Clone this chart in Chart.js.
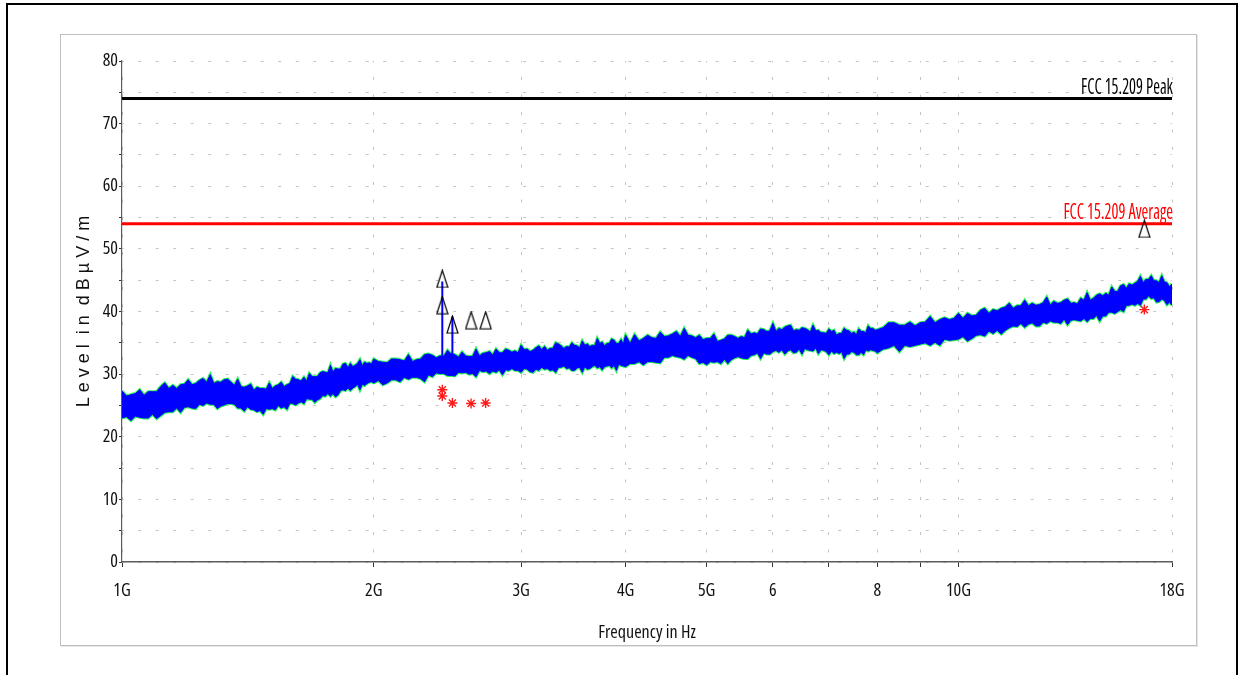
<!DOCTYPE html>
<html>
<head>
<meta charset="utf-8">
<title>Radiated emission 1-18 GHz</title>
<script src="https://cdn.jsdelivr.net/npm/chart.js@4.4.1/dist/chart.umd.min.js"></script>
<style>
  html, body { margin: 0; padding: 0; background: #fff; }
  #page { position: relative; width: 1243px; height: 675px; overflow: hidden; }
  #frame { position: absolute; left: 6px; top: 3px; width: 1232px; height: 700px;
           border: 2px solid #000; box-sizing: border-box; }
  #panel { position: absolute; left: 60px; top: 34px; width: 1137px; height: 612px;
           border: 1px solid #bfbfbf; box-sizing: border-box; box-shadow: 1px 1px 0 #e6e6e6; }
  #chart { position: absolute; left: 0; top: 0; }
</style>
</head>
<body>
<div id="page">
  <div id="frame"></div>
  <div id="panel"></div>
  <canvas id="chart" width="1243" height="675"></canvas>
</div>
<script>
// sweep frequencies (GHz)
const FREQ = [1,1.0125,1.025,1.0375,1.05,1.0625,1.075,1.0875,1.1,1.1125,1.125,1.1375,1.15,1.1625,1.175,1.1875,1.2,1.2125,1.225,1.2375,1.25,1.2625,1.275,1.2875,1.3,1.3125,1.325,1.3375,1.35,1.3625,1.375,1.3875,1.4,1.4125,1.425,1.4375,1.45,1.4625,1.475,1.4875,1.5,1.5125,1.525,1.5375,1.55,1.5625,1.575,1.5875,1.6,1.6125,1.625,1.6375,1.65,1.6625,1.675,1.6875,1.7,1.7125,1.725,1.7375,1.75,1.7625,1.775,1.7875,1.8,1.8125,1.825,1.8375,1.85,1.8625,1.875,1.8875,1.9,1.9125,1.925,1.9375,1.95,1.9625,1.975,1.9875,2,
  2.025,2.05,2.075,2.1,2.125,2.15,2.175,2.2,2.225,2.25,2.275,2.3,2.325,2.35,2.375,2.4,2.425,2.45,2.475,2.5,2.525,2.55,2.575,2.6,2.625,2.65,2.675,2.7,2.725,2.75,2.775,2.8,2.825,2.85,2.875,2.9,2.925,2.95,2.975,3,3.025,3.05,3.075,3.1,3.125,3.15,3.175,3.2,3.225,3.25,3.275,3.3,3.325,3.35,3.375,3.4,3.425,3.45,3.475,3.5,3.525,3.55,3.575,3.6,3.625,3.65,3.675,3.7,3.725,3.75,3.775,3.8,3.825,3.85,3.875,3.9,3.925,3.95,3.975,4,
  4.05,4.1,4.15,4.2,4.25,4.3,4.35,4.4,4.45,4.5,4.55,4.6,4.65,4.7,4.75,4.8,4.85,4.9,4.95,5,5.05,5.1,5.15,5.2,5.25,5.3,5.35,5.4,5.45,5.5,5.55,5.6,5.65,5.7,5.75,5.8,5.85,5.9,5.95,6,6.05,6.1,6.15,6.2,6.25,6.3,6.35,6.4,6.45,6.5,6.55,6.6,6.65,6.7,6.75,6.8,6.85,6.9,6.95,7,7.05,7.1,7.15,7.2,7.25,7.3,7.35,7.4,7.45,7.5,7.55,7.6,7.65,7.7,7.75,7.8,7.85,7.9,7.95,8,
  8.125,8.25,8.375,8.5,8.625,8.75,8.875,9,9.125,9.25,9.375,9.5,9.625,9.75,9.875,10,10.125,10.25,10.375,10.5,10.625,10.75,10.875,11,11.125,11.25,11.375,11.5,11.625,11.75,11.875,12,12.125,12.25,12.375,12.5,12.625,12.75,12.875,13,13.125,13.25,13.375,13.5,13.625,13.75,13.875,14,14.125,14.25,14.375,14.5,14.625,14.75,14.875,15,15.125,15.25,15.375,15.5,15.625,15.75,15.875,16,16.125,16.25,16.375,16.5,16.625,16.75,16.875,17,17.125,17.25,17.375,17.5,17.625,17.75,17.875,18];

// noise band of the scan: upper and lower edge (dBuV/m)
const SCAN_HI = [27.3,26.5,26.7,26.9,27.5,26.6,27.2,27.2,27.2,28.0,28.6,27.7,28.2,27.7,28.3,28.4,29.1,28.3,28.5,29.0,29.3,28.7,29.9,28.5,28.8,28.7,29.1,29.2,28.7,28.2,29.2,28.0,27.9,28.1,28.4,27.4,27.9,27.7,27.7,27.6,28.6,27.7,28.1,28.3,28.7,28.0,28.3,28.5,29.6,29.2,29.1,28.9,29.5,28.9,30.1,29.6,29.6,29.6,30.2,30.4,30.3,30.2,31.4,30.3,30.9,30.8,30.8,31.6,31.7,31.0,31.7,31.2,31.4,31.7,32.3,31.3,31.9,31.7,31.8,31.6,32.4,
  32.0,31.9,31.8,32.4,32.4,32.3,32.1,33.1,32.0,32.3,32.4,33.1,33.2,33.0,32.6,32.9,32.8,33.8,33.2,33.1,32.7,33.5,32.9,32.8,32.8,34.0,32.9,33.3,33.4,33.6,33.0,34.0,33.4,33.4,34.0,33.8,33.5,33.7,33.4,34.6,33.9,34.0,33.6,33.8,34.2,34.5,33.9,34.4,33.8,34.1,34.1,35.0,34.8,34.5,34.1,34.4,34.3,35.0,34.6,34.5,34.2,35.3,34.6,34.8,34.4,34.6,34.5,35.7,34.9,35.1,34.5,34.9,34.9,35.6,35.4,34.9,34.9,35.5,34.8,36.2,
  34.9,36.3,35.3,35.7,36.2,35.8,35.7,36.7,36.0,36.1,36.4,36.8,36.0,37.3,36.2,36.1,35.8,36.2,35.5,35.7,35.7,36.4,35.2,35.4,35.6,36.2,36.2,36.0,35.7,36.0,35.8,37.0,36.4,36.6,36.4,37.2,37.1,36.8,36.9,38.1,36.8,37.3,37.1,37.5,37.7,37.8,36.9,37.1,37.0,37.4,37.3,37.1,36.7,37.8,36.9,37.0,36.6,36.6,36.5,37.2,36.8,37.0,36.2,36.5,36.5,37.3,37.0,36.9,36.5,36.7,36.3,37.2,36.8,36.8,36.6,37.7,37.3,37.3,37.0,37.1,
  37.4,38.2,38.2,37.8,37.8,38.3,37.7,38.2,38.3,39.2,38.2,38.7,39.0,38.7,38.9,39.7,38.9,39.7,39.3,39.4,40.2,40.5,39.7,40.3,40.1,40.5,40.7,41.3,40.5,40.9,40.9,41.8,40.9,41.3,41.0,41.1,41.4,42.3,41.0,41.6,41.3,41.4,41.8,42.0,41.3,41.4,41.2,42.1,41.8,43.0,41.8,42.1,42.6,42.8,42.5,42.9,42.6,43.9,43.2,43.2,44.1,44.3,43.7,44.4,44.2,44.5,44.8,45.6,44.6,45.1,45.1,45.7,44.9,44.9,44.6,45.7,44.7,44.6,43.9,44.4];
const SCAN_LO = [23.0,23.2,22.6,23.3,23.1,23.0,23.0,23.6,22.9,23.4,23.9,24.0,24.0,24.6,23.9,24.7,24.8,24.6,24.5,25.2,25.0,25.4,25.2,25.2,24.5,24.9,25.1,25.3,25.3,25.2,24.6,24.6,24.1,24.8,24.4,24.3,24.0,24.2,23.6,24.5,24.4,24.5,24.3,25.0,24.6,24.8,24.4,25.4,25.3,25.1,25.4,25.6,25.3,26.1,26.0,26.0,25.5,25.9,26.1,26.6,26.5,26.9,26.5,26.9,26.4,26.7,27.4,27.5,27.4,27.8,27.4,27.8,28.0,28.4,27.5,28.4,28.2,28.5,28.7,28.8,28.6,
  29.0,28.3,28.6,29.1,29.1,28.8,29.5,29.2,29.5,29.5,29.3,28.8,29.9,29.6,30.2,30.1,30.1,29.8,29.8,29.7,30.3,30.2,30.3,30.0,30.1,29.6,30.6,30.4,30.5,30.1,30.5,30.3,30.7,29.9,30.7,30.6,30.9,30.6,30.6,30.3,30.9,30.8,30.4,30.3,30.8,30.6,31.1,30.8,30.9,30.6,30.7,30.3,31.1,31.1,31.3,30.9,31.0,30.6,30.6,31.0,31.1,30.3,31.2,30.8,30.9,31.2,31.4,31.0,31.2,30.7,31.2,31.3,31.4,31.0,31.4,30.6,31.6,31.4,31.3,31.2,
  31.7,31.7,32.0,31.5,32.0,32.0,31.9,31.8,32.7,32.7,33.0,32.8,32.7,32.4,33.0,32.7,32.5,31.7,31.9,31.5,32.0,31.9,32.0,31.7,32.4,31.7,32.3,32.6,32.8,32.6,32.5,32.5,33.0,33.1,33.4,32.5,33.4,33.2,33.2,33.6,33.8,33.5,33.9,33.2,33.7,33.9,33.4,33.5,34.0,33.2,34.1,33.9,33.8,33.7,34.2,33.3,33.9,33.8,33.6,33.1,33.7,33.3,33.5,33.3,33.6,32.5,33.2,33.2,33.6,33.5,33.1,33.1,33.5,33.1,33.9,33.7,33.9,33.8,33.7,33.4,
  34.0,34.2,34.6,33.6,34.6,34.4,34.6,34.8,35.0,34.6,35.1,34.6,35.6,35.4,35.5,35.6,36.0,35.3,35.7,36.2,36.3,36.1,36.9,36.5,37.0,36.4,37.0,37.4,37.7,37.6,38.1,37.5,38.0,38.2,37.7,37.7,38.3,38.1,38.5,38.3,38.3,38.1,38.8,37.9,38.6,38.7,38.6,38.5,38.9,38.4,38.9,38.9,39.4,38.5,39.3,39.3,39.9,39.9,39.7,40.0,40.3,40.0,41.0,41.0,41.2,41.0,41.3,41.0,42.0,42.0,42.5,42.1,42.2,41.5,41.6,42.0,41.8,41.1,41.5,41.0];

// narrow carriers sticking out of the noise floor
const SPIKE_F = [2.415, 2.483];
const SPIKE_BASE = [31.5, 31.8];
const SPIKE_TOP = [44.8, 39.2];

// final measurement markers: peak (triangles) and average (stars)
const PEAK_F = [2.415, 2.415, 2.483, 2.614, 2.721, 16.68];
const PEAK_DB = [45.2, 41.0, 37.9, 38.6, 38.6, 53.2];
const AVG_F = [2.415, 2.415, 2.483, 2.614, 2.721, 16.68];
const AVG_DB = [27.5, 26.5, 25.4, 25.3, 25.4, 40.3];

// limit lines
const LIMIT_NAMES = ['FCC 15.209 Peak', 'FCC 15.209 Average'];
const LIMIT_DB = [74, 54];
const LIMIT_COLORS = ['#000000', '#ff0000'];

const X_TICKS = [1, 2, 3, 4, 5, 6, 7, 8, 9, 10, 18];
const X_LABELS = ['1G', '2G', '3G', '4G', '5G', '6', '', '8', '', '10G', '18G'];

// condensed labels: Open Sans is a variable font, so the width axis works through font-stretch.
// Chart.js puts `weight` right in front of the size in its font string, which is where the
// stretch keyword has to go.
const NARROW = "'Open Sans', 'Liberation Sans', sans-serif";
const STRETCH = 'condensed';
const narrowFont = size => ({ family: NARROW, size: size, weight: STRETCH });

function pts(xs, ys) { return xs.map((x, i) => ({ x: x, y: ys[i] })); }

// tall hollow triangle used for the peak markers
function triangleMark() {
  const c = document.createElement('canvas');
  c.width = 13; c.height = 19;
  const g = c.getContext('2d');
  g.strokeStyle = '#000';
  g.lineWidth = 1.2;
  g.beginPath();
  g.moveTo(6.5, 1);
  g.lineTo(12, 18);
  g.lineTo(1, 18);
  g.closePath();
  g.stroke();
  return c;
}

const spikeData = [];
SPIKE_F.forEach((f, i) => {
  if (i) spikeData.push({ x: f, y: null });
  spikeData.push({ x: f, y: SPIKE_BASE[i] }, { x: f, y: SPIKE_TOP[i] });
});

const limitData = LIMIT_DB.map(v => [{ x: 1, y: v }, { x: 18, y: v }]);

// limit names sit right-aligned on top of their line, tall and squeezed
const limitLabels = {
  id: 'limitLabels',
  afterDatasetsDraw(chart) {
    const { ctx, chartArea, scales } = chart;
    const font = `${STRETCH} 22px ${NARROW}`;
    ctx.save();
    ctx.font = font;
    const sx = 92 / ctx.measureText(LIMIT_NAMES[0]).width;
    ctx.restore();
    LIMIT_NAMES.forEach((name, i) => {
      const y = scales.y.getPixelForValue(LIMIT_DB[i]);
      ctx.save();
      ctx.font = font;
      ctx.fillStyle = LIMIT_COLORS[i];
      ctx.textAlign = 'right';
      ctx.textBaseline = 'alphabetic';
      ctx.translate(chartArea.right + 1, y - 5);
      ctx.scale(sx, 1);
      ctx.fillText(name, 0, 0);
      ctx.restore();
    });
  }
};

const line = (data, color, width, extra) => Object.assign({
  type: 'line', data: data, borderColor: color, borderWidth: width,
  pointRadius: 0, tension: 0, fill: false
}, extra || {});

new Chart(document.getElementById('chart'), {
  type: 'scatter',
  data: {
    datasets: [
      { data: pts(PEAK_F, PEAK_DB), pointStyle: triangleMark(), pointRadius: 8 },
      { data: pts(AVG_F, AVG_DB), pointStyle: 'star', pointRadius: 5,
        borderColor: '#ff1a1a', borderWidth: 1.4, backgroundColor: '#ff1a1a' },
      line(limitData[0], LIMIT_COLORS[0], 3),
      line(limitData[1], LIMIT_COLORS[1], 3),
      line(spikeData, '#0000ff', 2, { spanGaps: false }),
      line(pts(FREQ, SCAN_LO), '#0000ff', 1),
      line(pts(FREQ, SCAN_HI), '#0000ff', 1, { fill: '-1', backgroundColor: '#0000ff' }),
      line(pts(FREQ, SCAN_LO), '#2cf05a', 3),
      line(pts(FREQ, SCAN_HI), '#2cf05a', 3)
    ]
  },
  options: {
    responsive: false,
    animation: false,
    events: [],
    layout: { padding: { left: 60, top: 61, right: 71, bottom: 30 } },
    plugins: { legend: { display: false }, tooltip: { enabled: false } },
    scales: {
      x: {
        type: 'logarithmic',
        min: 1, max: 18,
        afterBuildTicks: s => { s.ticks = X_TICKS.map(v => ({ value: v })); },
        afterFit: s => { s.height = 83; },
        ticks: {
          autoSkip: false, maxRotation: 0, padding: 13, color: '#111',
          font: narrowFont(18),
          callback: (v, i) => X_LABELS[i]
        },
        grid: { color: '#c4c4c4', lineWidth: 1, tickLength: 5, tickColor: '#333', tickWidth: 1, tickBorderDash: [] },
        border: { display: true, color: '#5c5c5c', width: 1.5, dash: [3, 14.5], dashOffset: 1.5 },
        title: { display: true, text: 'Frequency in Hz', color: '#111',
                 font: narrowFont(18), padding: { top: 0, bottom: 1 } }
      },
      y: {
        min: 0, max: 80,
        afterFit: s => { s.width = 62; },
        ticks: {
          stepSize: 5, padding: 1, color: '#111',
          font: narrowFont(18),
          callback: v => (v % 10 === 0 ? v : '')
        },
        grid: { color: '#c4c4c4', lineWidth: 1, tickLength: 3, tickColor: '#333', tickWidth: 1, tickBorderDash: [] },
        border: { display: true, color: '#5c5c5c', width: 1.2, dash: [3, 14.5], dashOffset: 1.5 },
        title: { display: true, text: 'L e v e l  i n  d B µ V / m', color: '#111',
                 font: { family: "'Liberation Sans', Arial, sans-serif", size: 18 },
                 padding: { top: 13, bottom: 0 } }
      }
    }
  },
  plugins: [limitLabels]
});
</script>
</body>
</html>
